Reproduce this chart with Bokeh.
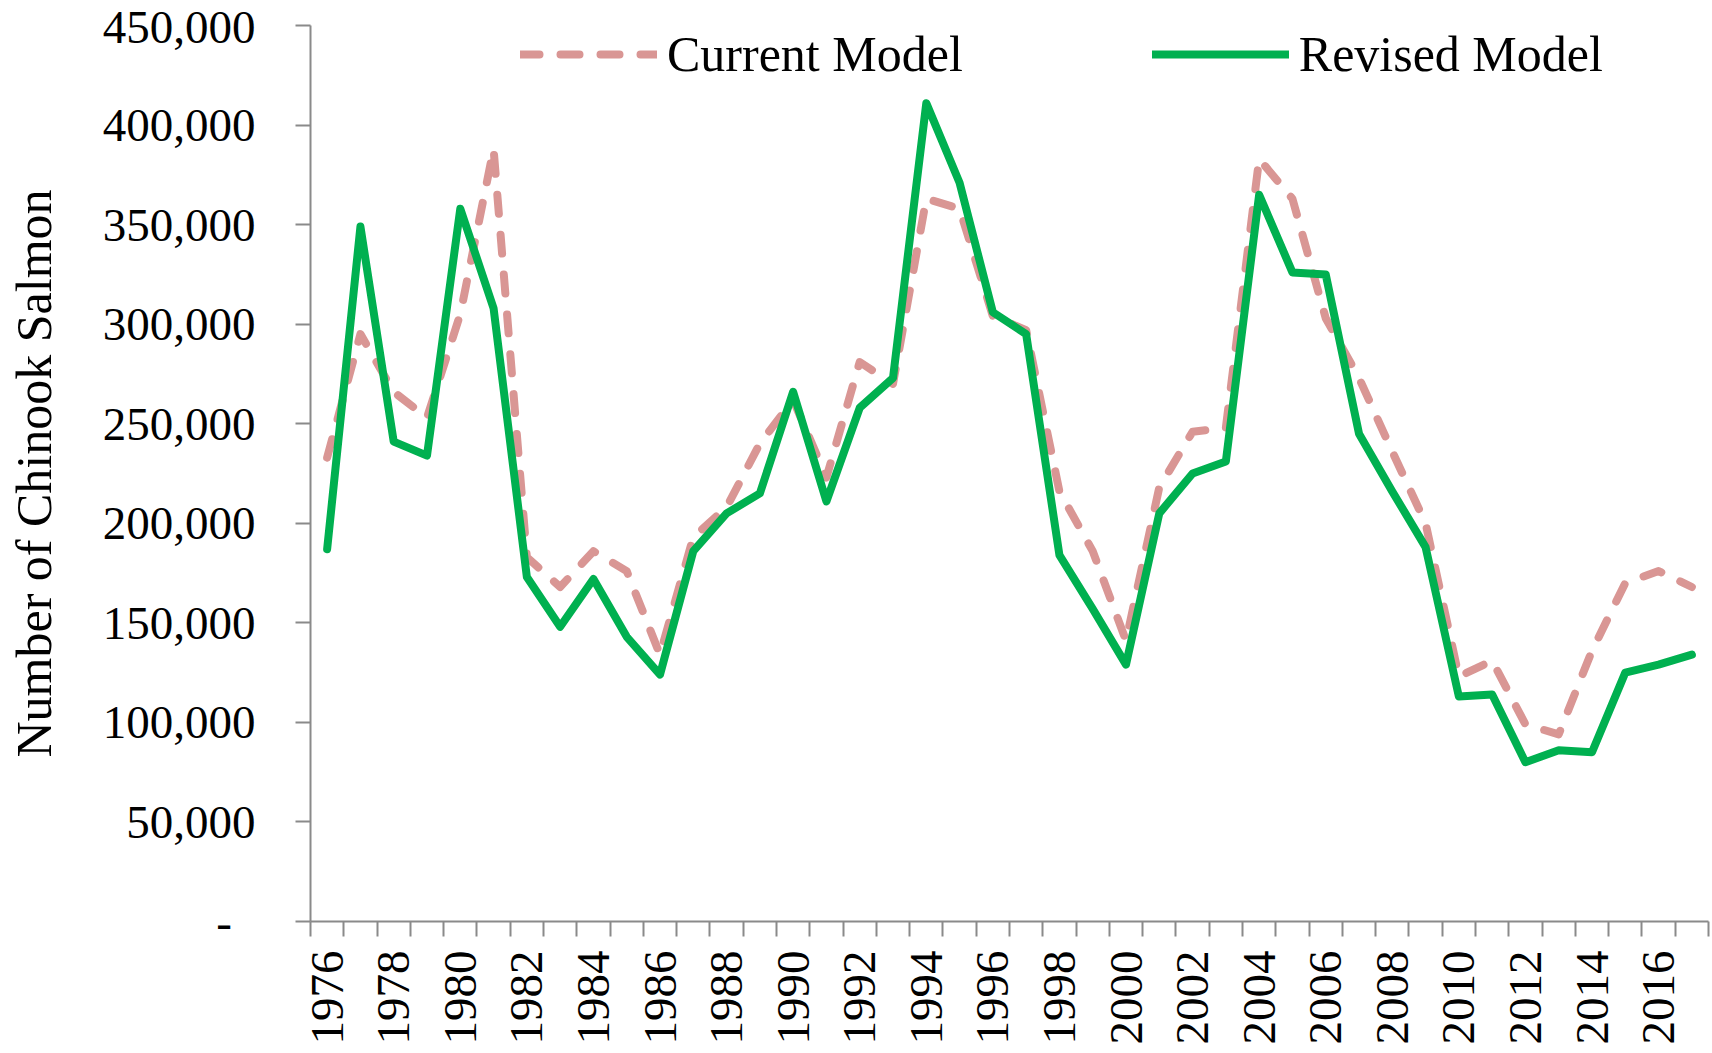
import math
from bokeh.plotting import figure
from bokeh.models import (Range1d, FixedTicker, NumeralTickFormatter, Legend, LegendItem,
                          ColumnDataSource)
from bokeh.embed import file_html
from bokeh.resources import INLINE

years = list(range(1976, 2018))
current_model = [233000, 295000, 266000, 253000, 305000, 388000, 183000, 168000, 186000, 176000,
                 134000, 193000, 208000, 240000, 262000, 223000, 281000, 270000, 363000, 358000,
                 304000, 297000, 216000, 186000, 141000, 218000, 246000, 248000, 383000, 363000,
                 303000, 273000, 236000, 200000, 123000, 131000, 99000, 94000, 136000, 170000,
                 176000, 168000]
revised_model = [187000, 349000, 241000, 234000, 358000, 308000, 173000, 148000, 172000, 143000,
                 124000, 186000, 205000, 215000, 266000, 211000, 258000, 273000, 411000, 371000,
                 306000, 295000, 184000, 157000, 129000, 205000, 225000, 231000, 365000, 326000,
                 325000, 245000, 216000, 188000, 113000, 114000, 80000, 86000, 85000, 125000,
                 129000, 134000]
label_years = list(range(1976, 2017, 2))
y_ticks = list(range(0, 450001, 50000))
series_names = ["Current Model", "Revised Model"]

FONT = "Liberation Serif"
AXIS_COLOR = "#8a8a8a"

src = ColumnDataSource(dict(year=years, current=current_model, revised=revised_model))

p = figure(width=1710, height=1052, output_backend="svg", toolbar_location=None,
           x_range=Range1d(years[0] - 0.5, years[-1] + 0.5),
           y_range=Range1d(0, 450000),
           min_border_left=310, min_border_right=2, min_border_top=25, min_border_bottom=131)
p.outline_line_color = None
p.xgrid.visible = False
p.ygrid.visible = False
p.background_fill_color = "white"
p.border_fill_color = "white"

r_cur = p.line("year", "current", source=src, line_color="#D99694", line_width=8,
               line_dash="19 21", line_cap="round", line_join="round")
r_rev = p.line("year", "revised", source=src, line_color="#00B050", line_width=8,
               line_join="round", line_cap="round")

# x axis
xa = p.xaxis[0]
boundaries = [y - 0.5 for y in years] + [years[-1] + 0.5]
xa.ticker = FixedTicker(ticks=label_years, minor_ticks=boundaries)
xa.formatter = NumeralTickFormatter(format="0")
xa.major_tick_out = 0
xa.major_tick_in = 0
xa.minor_tick_out = 15
xa.minor_tick_in = 0
xa.minor_tick_line_color = AXIS_COLOR
xa.minor_tick_line_width = 2
xa.axis_line_color = AXIS_COLOR
xa.axis_line_width = 2
xa.major_label_orientation = math.pi / 2
xa.major_label_standoff = 14
xa.major_label_text_font = FONT
xa.major_label_text_font_size = "47px"
xa.major_label_text_color = "black"

# y axis
ya = p.yaxis[0]
ya.ticker = FixedTicker(ticks=y_ticks)
ya.formatter = NumeralTickFormatter(format="0,0")
ya.major_label_overrides = {0: "-\u00a0\u00a0"}
ya.major_tick_out = 15
ya.major_tick_in = 0
ya.minor_tick_out = 0
ya.minor_tick_in = 0
ya.major_tick_line_color = AXIS_COLOR
ya.major_tick_line_width = 2
ya.axis_line_color = AXIS_COLOR
ya.axis_line_width = 2
ya.major_label_standoff = 40
ya.major_label_text_font = FONT
ya.major_label_text_font_size = "47px"
ya.major_label_text_color = "black"
ya.axis_label = "Number of Chinook Salmon"
ya.axis_label_text_font = FONT
ya.axis_label_text_font_size = "50px"
ya.axis_label_text_font_style = "normal"
ya.axis_label_text_color = "black"
ya.axis_label_standoff = 38

legend = Legend(items=[LegendItem(label=series_names[0], renderers=[r_cur]),
                       LegendItem(label=series_names[1], renderers=[r_rev])],
                orientation="horizontal", location=(210, 838),
                glyph_width=137, glyph_height=50, label_standoff=10, spacing=189,
                padding=0, margin=0, border_line_color=None, background_fill_alpha=0,
                label_text_font=FONT, label_text_font_size="50px", label_text_color="black")
p.add_layout(legend)

open("out.html", "w").write(file_html(p, INLINE))
